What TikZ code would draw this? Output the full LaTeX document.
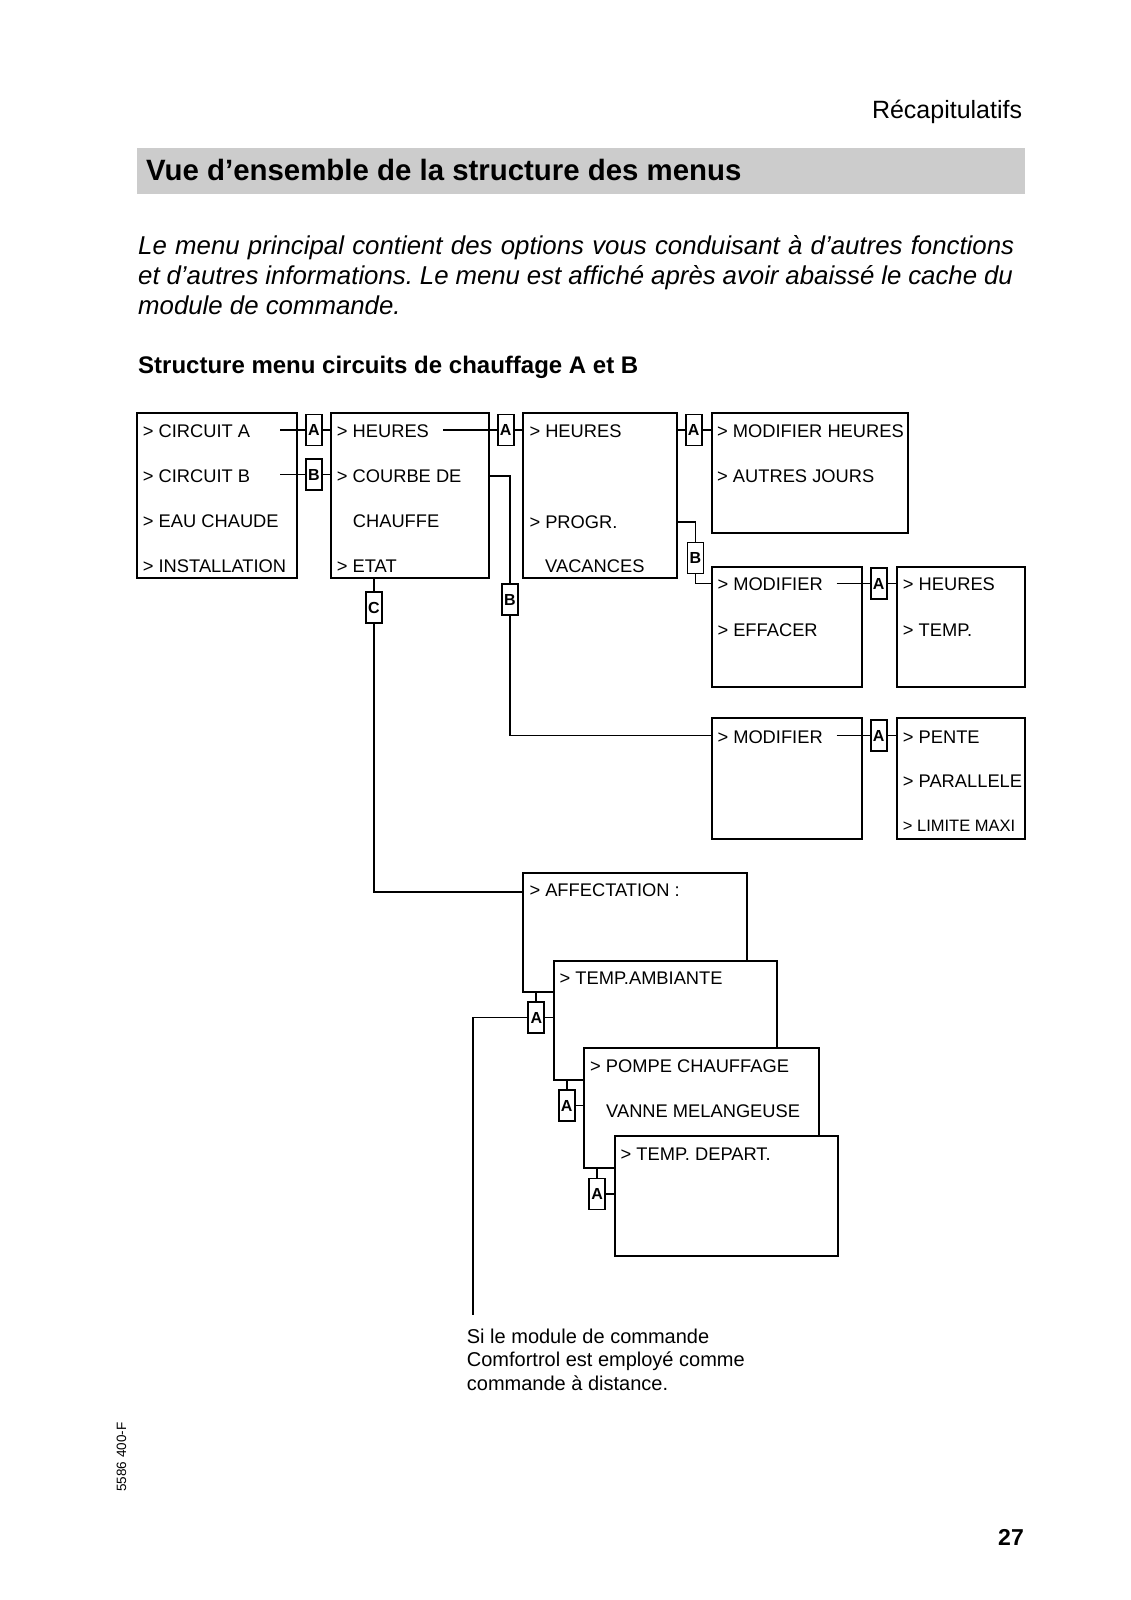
\documentclass[tikz,border=0pt]{standalone}
\usepackage{fontspec}
\setmainfont{Liberation Sans}
\usetikzlibrary{positioning}
\definecolor{bargray}{HTML}{CCCCCC}
\frenchspacing

\begin{document}
\begin{tikzpicture}[x=1pt, y=-1pt,
    menubox/.style={draw, line width=1.8pt, fill=white, inner sep=0pt, outer sep=0pt, anchor=north west},
    tagbox/.style={draw, line width=1.8pt, fill=white, inner sep=0pt, outer sep=0pt,
        minimum width=16pt, minimum height=31pt, font=\fontsize{16}{16}\selectfont\bfseries},
    item/.style={anchor=base west, inner sep=0pt, font=\fontsize{18.3}{20}\selectfont},
    link/.style={line width=1.8pt}]
    \useasboundingbox (0,0) rectangle (1130,1600);

    % Page header
    \node[anchor=base east, inner sep=0pt, font=\fontsize{25}{30}\selectfont] (chap) at (1022.3,119) {Récapitulatifs};
    \node[menubox, draw=none, fill=bargray, minimum width=888.2pt, minimum height=46pt] (bar) at (136.8,148.3) {};
    \node[anchor=base west, inner sep=0pt, font=\fontsize{29.4}{32}\selectfont\bfseries] (title) at (146,180) {Vue d’ensemble de la structure des menus};
    \node[anchor=base west, inner sep=0pt, font=\fontsize{25.8}{29}\selectfont\itshape] (par1) at (138,254)
        {\makebox[876pt][s]{Le menu principal contient des options vous conduisant à d’autres fonctions}};
    \node[anchor=base west, inner sep=0pt, font=\fontsize{25.8}{29}\selectfont\itshape] (par2) at (138,284)
        {\makebox[874.7pt][s]{et d’autres informations. Le menu est affiché après avoir abaissé le cache du}};
    \node[anchor=base west, inner sep=0pt, font=\fontsize{25.8}{29}\selectfont\itshape] (par3) at (138,314) {module de commande.};
    \node[anchor=base west, inner sep=0pt, font=\fontsize{24}{28}\selectfont\bfseries] (subt) at (138,373) {Structure menu circuits de chauffage A et B};

    % Menu boxes
    \node[menubox, minimum width=160pt, minimum height=165pt] (circ) at (136.7,413.3) {};
    \node[menubox, minimum width=158pt, minimum height=165pt] (heur) at (331,413.3) {};
    \node[menubox, minimum width=153.4pt, minimum height=164.4pt] (prog) at (523.3,413.3) {};
    \node[menubox, minimum width=196.3pt, minimum height=119.4pt] (modh) at (711.7,413.3) {};
    \node[menubox, minimum width=150pt, minimum height=120pt] (modp) at (711.7,566.7) {};
    \node[menubox, minimum width=128.3pt, minimum height=120pt] (valp) at (896.7,566.7) {};
    \node[menubox, minimum width=150pt, minimum height=120.7pt] (modc) at (711.7,718.3) {};
    \node[menubox, minimum width=128.3pt, minimum height=120.7pt] (pent) at (896.7,718.3) {};
    \node[menubox, minimum width=223.4pt, minimum height=119pt] (affe) at (523.3,872.7) {};
    \node[menubox, minimum width=222.7pt, minimum height=119.3pt] (amb) at (554,960.7) {};
    \node[menubox, minimum width=235pt, minimum height=120pt] (pomp) at (584.3,1048.3) {};
    \node[menubox, minimum width=223.3pt, minimum height=120pt] (depa) at (615,1136) {};

    % Menu items
    \node[item] (ciA) at (142.7,437.5) {> CIRCUIT A};
    \node[item] (ciB) at (142.7,482.5) {> CIRCUIT B};
    \node[item] (eau) at (142.7,527.5) {> EAU CHAUDE};
    \node[item] (inst) at (142.7,572.5) {> INSTALLATION};
    \node[item] (heu1) at (336.7,437.5) {> HEURES};
    \node[item] (cou1) at (336.7,482.5) {> COURBE DE};
    \node[item] (cou2) at (352.7,527.5) {CHAUFFE};
    \node[item] (eta) at (336.7,572.5) {> ETAT};
    \node[item] (heu2) at (529.3,437.5) {> HEURES};
    \node[item] (prg1) at (529.3,528) {> PROGR.};
    \node[item] (prg2) at (545,572.5) {VACANCES};
    \node[item] (mdh) at (717,437.5) {> MODIFIER HEURES};
    \node[item] (aut) at (717,482.5) {> AUTRES JOURS};
    \node[item] (mod1) at (717.3,590.5) {> MODIFIER};
    \node[item] (eff) at (717.3,636.5) {> EFFACER};
    \node[item] (heu3) at (902.7,590.5) {> HEURES};
    \node[item] (tmp) at (902.7,636.5) {> TEMP.};
    \node[item] (mod2) at (717.3,743.2) {> MODIFIER};
    \node[item] (pen) at (902.7,743.2) {> PENTE};
    \node[item] (par) at (902.7,787.5) {> PARALLELE};
    \node[item, font=\fontsize{16.5}{18}\selectfont] (lim) at (902.7,831) {> LIMITE MAXI};
    \node[item] (aff) at (529.3,896.5) {> AFFECTATION :};
    \node[item] (tamb) at (559.5,984.2) {> TEMP.AMBIANTE};
    \node[item] (pom1) at (590,1072.5) {> POMPE CHAUFFAGE};
    \node[item] (pom2) at (606,1117.2) {VANNE MELANGEUSE};
    \node[item] (dep) at (620.5,1160.5) {> TEMP. DEPART.};

    % Tags
    \node[tagbox] (tA1) at (314,430) {A};
    \node[tagbox] (tB1) at (314,474.5) {B};
    \node[tagbox] (tA2) at (505.7,430) {A};
    \node[tagbox] (tA3) at (693.7,430) {A};
    \node[tagbox] (tB3) at (695.5,558) {B};
    \node[tagbox] (tC) at (374,607.8) {C};
    \node[tagbox] (tB2) at (510,599.7) {B};
    \node[tagbox] (tA4) at (878.7,583.5) {A};
    \node[tagbox] (tA5) at (878.7,735.5) {A};
    \node[tagbox] (tA6) at (536.3,1017.5) {A};
    \node[tagbox] (tA7) at (566.7,1105.5) {A};
    \node[tagbox] (tA8) at (597.2,1194) {A};

    % Free ends of the links
    \coordinate (lnA) at (280,430);
    \coordinate (lnB) at (280,474.5);
    \coordinate (lnH) at (443,430);
    \coordinate (lnCou) at (489,476);
    \coordinate (lnPrg) at (676.7,521.7);
    \coordinate (lnM1) at (836.7,583.5);
    \coordinate (lnM2) at (836.7,735.5);
    \coordinate (lnAff) at (523.3,891.7);
    \coordinate (lnRem) at (472.7,1315);

    % Links
    \draw[link] (lnA) -- (tA1.west);
    \draw[link] (tA1.east) -- (tA1.east -| heur.west);
    \draw[link] (lnB) -- (tB1.west);
    \draw[link] (tB1.east) -- (tB1.east -| heur.west);
    \draw[link] (lnH) -- (tA2.west);
    \draw[link] (tA2.east) -- (tA2.east -| prog.west);
    \draw[link] (tA3.west -| prog.east) -- (tA3.west);
    \draw[link] (tA3.east) -- (tA3.east -| modh.west);
    \draw[link] (lnPrg) -| (tB3.north);
    \draw[link] (tB3.south) |- (tA4 -| modp.west);
    \draw[link] (lnM1) -- (tA4.west);
    \draw[link] (tA4.east) -- (tA4.east -| valp.west);
    \draw[link] (lnCou) -| (tB2.north);
    \draw[link] (tB2.south) |- (tA5 -| modc.west);
    \draw[link] (lnM2) -- (tA5.west);
    \draw[link] (tA5.east) -- (tA5.east -| pent.west);
    \draw[link] (tC |- heur.south) -- (tC.north);
    \draw[link] (tC.south) |- (lnAff);
    \draw[link] (tA6 |- affe.south) -- (tA6.north);
    \draw[link] (tA6.east) -- (tA6.east -| amb.west);
    \draw[link] (tA6.west) -| (lnRem);
    \draw[link] (tA7 |- amb.south) -- (tA7.north);
    \draw[link] (tA7.east) -- (tA7.east -| pomp.west);
    \draw[link] (tA8 |- pomp.south) -- (tA8.north);
    \draw[link] (tA8.east) -- (tA8.east -| depa.west);

    % Remark and footer
    \node[anchor=base west, inner sep=0pt, align=left, font=\fontsize{20}{23.5}\selectfont] (rem) at (466.7,1390)
        {Si le module de commande\\Comfortrol est employé comme\\commande à distance.};
    \node[rotate=90, inner sep=0pt, font=\fontsize{13.5}{15}\selectfont] (ref) at (121.5,1457) {5586 400-F};
    \node[anchor=base east, inner sep=0pt, font=\fontsize{23}{26}\selectfont\bfseries] (page) at (1024,1545) {27};
\end{tikzpicture}
\end{document}
